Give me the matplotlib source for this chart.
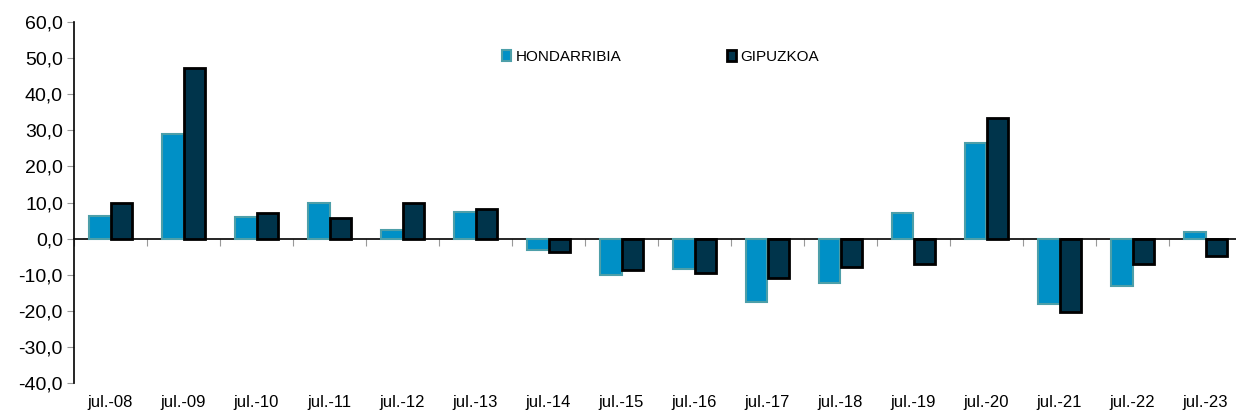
import numpy as np
import matplotlib.pyplot as plt

categories = ['jul.-08', 'jul.-09', 'jul.-10', 'jul.-11', 'jul.-12', 'jul.-13', 'jul.-14', 'jul.-15',
              'jul.-16', 'jul.-17', 'jul.-18', 'jul.-19', 'jul.-20', 'jul.-21', 'jul.-22', 'jul.-23']
hondarribia = [6.2, 29.0, 6.0, 9.9, 2.3, 7.3, -3.2, -10.0, -8.3, -17.7, -12.4, 7.1, 26.6, -18.2, -13.0, 1.8]
gipuzkoa = [9.9, 47.2, 7.1, 5.8, 9.9, 8.2, -3.6, -8.6, -9.5, -10.9, -7.8, -7.1, 33.3, -20.2, -6.9, -4.7]
yticks = [60, 50, 40, 30, 20, 10, 0, -10, -20, -30, -40]

plt.rcParams['font.family'] = ['Liberation Sans', 'DejaVu Sans']

fig = plt.figure(figsize=(12.36, 4.12), dpi=100)
ax = fig.add_axes([74 / 1236, 1 - 383 / 412, 1168 / 1236, 361 / 412])

x = np.arange(len(categories))
w = 0.295
ax.bar(x - w / 2, hondarribia, w, color='#0090c6', edgecolor='#4d9fa9', linewidth=1.5,
       label='HONDARRIBIA', zorder=2)
ax.bar(x + w / 2, gipuzkoa, w, color='#00344b', edgecolor='#000000', linewidth=2,
       label='GIPUZKOA', zorder=3)

ax.set_xlim(-0.5, len(categories) - 0.5)
ax.set_ylim(-40, 60)
ax.set_yticks(yticks)
ax.set_yticklabels([f'{v:.1f}'.replace('.', ',') for v in yticks], fontsize=14)
ax.tick_params(axis='y', direction='out', length=5, color='#999999', pad=3)

ax.set_xticks(x)
ax.set_xticklabels(categories, fontsize=12)
ax.tick_params(axis='x', length=0, pad=9)

for s in ['top', 'right', 'bottom']:
    ax.spines[s].set_visible(False)
ax.spines['left'].set_linewidth(1.2)

# zero line with tick marks at category boundaries
zero_ax = ax.secondary_xaxis(40 / 100)
zero_ax.set_xticks(np.arange(len(categories) + 1) - 0.5)
zero_ax.set_xticklabels([])
zero_ax.tick_params(direction='out', length=5, color='#999999')
zero_ax.spines['bottom'].set_linewidth(1.2)

ax.legend(loc='center left', bbox_to_anchor=((502 - 74) / 1168, (383 - 56.7) / 361),
          ncol=2, frameon=False, fontsize=11, handlelength=0.6, handleheight=0.7,
          handletextpad=0.3, columnspacing=6.9, borderpad=0, borderaxespad=0)

fig.savefig('out.png', dpi=100)
